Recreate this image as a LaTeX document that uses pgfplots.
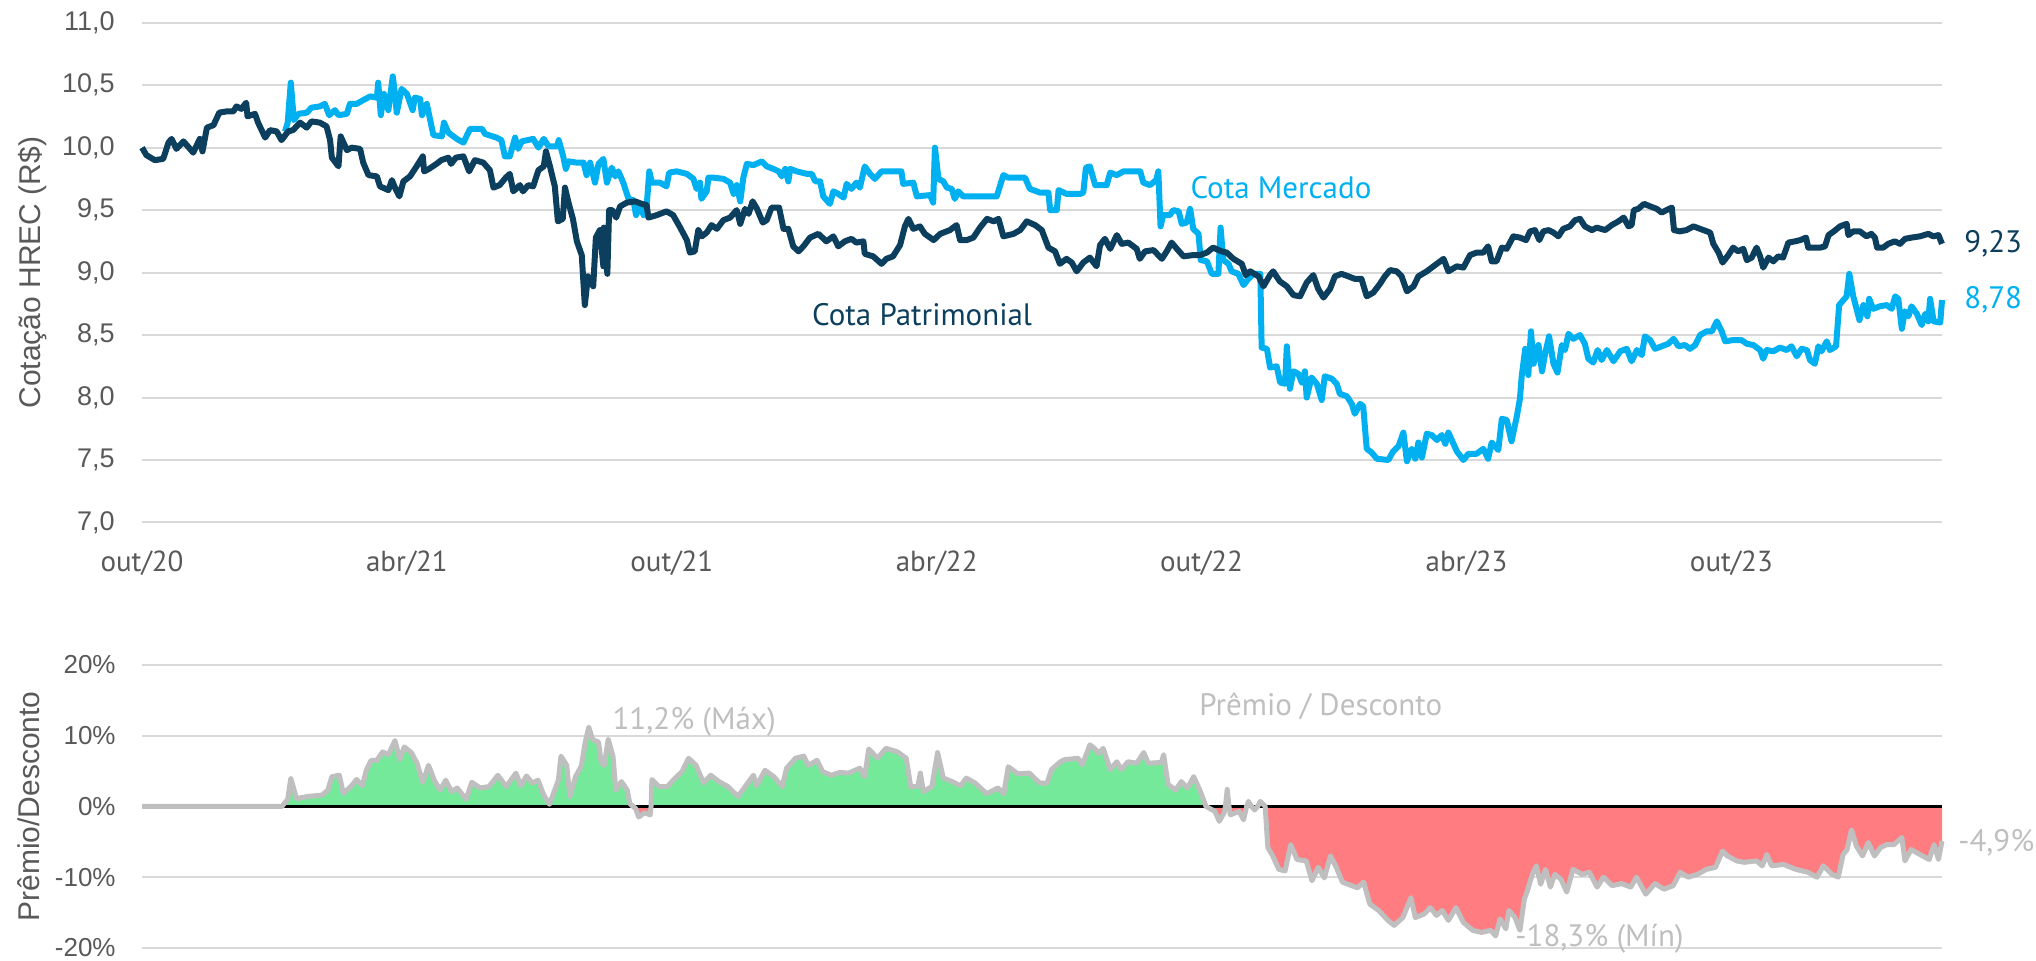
\documentclass[border=0pt]{standalone}
\usepackage{fontspec}
\setmainfont{Liberation Sans}
\newfontfamily\din{PT Sans}
\usepackage{pgfplots}
\usepackage{pgfplotstable}
\pgfplotsset{compat=1.18}

\definecolor{mercado}{RGB}{0,176,240}
\definecolor{patrim}{RGB}{12,62,94}
\definecolor{premio}{RGB}{191,191,191}
\definecolor{gridc}{RGB}{217,217,217}
\definecolor{tickc}{RGB}{89,89,89}
\definecolor{verde}{RGB}{115,233,153}
\definecolor{vermelho}{RGB}{255,124,128}

% x = meses desde out/20
\pgfplotstableread{
m v
0.00 10.00
0.10 9.94
0.29 9.90
0.48 9.91
0.60 10.04
0.67 10.07
0.78 9.99
0.94 10.05
1.16 9.96
1.31 10.07
1.37 9.97
1.47 10.16
1.62 10.18
1.75 10.28
1.92 10.29
2.07 10.29
2.14 10.33
2.25 10.31
2.36 10.36
2.39 10.25
2.56 10.27
2.63 10.20
2.79 10.08
2.90 10.14
3.05 10.13
3.16 10.06
3.31 10.13
3.42 10.14
3.58 10.20
3.73 10.16
3.84 10.21
4.03 10.20
4.18 10.17
4.26 10.06
4.30 9.92
4.45 9.85
4.50 10.09
4.64 9.98
4.75 10.00
4.94 9.99
5.01 9.88
5.13 9.78
5.32 9.77
5.39 9.69
5.58 9.66
5.66 9.74
5.73 9.68
5.83 9.61
5.92 9.73
6.07 9.77
6.22 9.85
6.36 9.93
6.39 9.81
6.50 9.83
6.67 9.87
6.78 9.90
6.94 9.92
7.00 9.87
7.11 9.92
7.28 9.93
7.41 9.81
7.54 9.90
7.73 9.88
7.88 9.82
7.96 9.68
8.10 9.70
8.24 9.76
8.33 9.79
8.41 9.65
8.56 9.70
8.63 9.65
8.75 9.70
8.86 9.69
8.98 9.82
9.10 9.85
9.15 9.97
9.24 9.85
9.35 9.69
9.42 9.41
9.53 9.43
9.58 9.68
9.66 9.56
9.76 9.43
9.85 9.25
9.96 9.14
10.03 8.74
10.10 8.97
10.22 8.89
10.28 9.28
10.37 9.34
10.45 9.05
10.46 9.36
10.54 8.99
10.58 9.50
10.65 9.50
10.74 9.44
10.83 9.53
10.98 9.56
11.17 9.57
11.32 9.55
11.43 9.54
11.47 9.44
11.66 9.46
11.88 9.49
12.03 9.46
12.19 9.36
12.34 9.26
12.41 9.16
12.52 9.17
12.60 9.34
12.68 9.29
12.79 9.32
12.90 9.38
13.02 9.35
13.17 9.42
13.32 9.44
13.47 9.50
13.55 9.39
13.66 9.51
13.74 9.47
13.83 9.57
13.93 9.51
14.06 9.40
14.15 9.42
14.26 9.52
14.43 9.52
14.53 9.35
14.64 9.35
14.75 9.21
14.87 9.17
14.98 9.21
15.13 9.28
15.32 9.31
15.50 9.25
15.66 9.29
15.77 9.21
15.92 9.25
16.07 9.27
16.18 9.24
16.34 9.25
16.37 9.15
16.56 9.13
16.75 9.07
16.86 9.11
17.01 9.13
17.17 9.22
17.28 9.37
17.36 9.43
17.47 9.35
17.62 9.37
17.73 9.31
17.93 9.26
18.08 9.31
18.30 9.34
18.45 9.38
18.53 9.26
18.68 9.26
18.83 9.28
18.98 9.36
19.14 9.43
19.29 9.41
19.40 9.43
19.51 9.29
19.74 9.31
19.89 9.34
20.04 9.41
20.23 9.38
20.38 9.34
20.53 9.20
20.68 9.17
20.79 9.07
20.94 9.11
21.06 9.08
21.17 9.01
21.32 9.08
21.47 9.12
21.62 9.05
21.70 9.22
21.81 9.27
21.93 9.19
22.08 9.30
22.19 9.23
22.34 9.24
22.53 9.19
22.60 9.11
22.72 9.17
22.91 9.18
23.10 9.11
23.21 9.17
23.32 9.24
23.44 9.19
23.59 9.13
23.81 9.14
23.96 9.14
24.12 9.16
24.26 9.20
24.45 9.17
24.57 9.16
24.72 9.11
24.91 9.07
25.00 8.98
25.10 9.01
25.29 8.97
25.40 8.89
25.55 8.98
25.62 9.01
25.77 8.93
25.93 8.89
26.08 8.82
26.23 8.81
26.38 8.92
26.53 8.98
26.64 8.87
26.76 8.80
26.91 8.87
27.02 8.97
27.17 8.99
27.32 8.97
27.47 8.95
27.62 8.95
27.74 8.81
27.89 8.84
28.04 8.91
28.15 8.97
28.27 9.02
28.42 9.01
28.53 8.97
28.65 8.85
28.80 8.89
28.91 8.97
29.10 9.01
29.25 9.05
29.48 9.11
29.59 9.01
29.78 9.05
29.93 9.04
30.08 9.14
30.23 9.16
30.38 9.16
30.49 9.21
30.57 9.09
30.68 9.09
30.80 9.20
30.91 9.19
31.06 9.29
31.21 9.28
31.35 9.26
31.44 9.33
31.55 9.34
31.65 9.26
31.74 9.33
31.86 9.34
31.97 9.32
32.08 9.29
32.19 9.35
32.34 9.37
32.46 9.42
32.57 9.43
32.68 9.37
32.84 9.34
32.95 9.36
33.14 9.34
33.29 9.38
33.44 9.41
33.56 9.44
33.67 9.37
33.74 9.38
33.79 9.50
33.89 9.51
34.02 9.55
34.16 9.53
34.31 9.51
34.42 9.48
34.53 9.50
34.65 9.52
34.70 9.34
34.83 9.33
34.98 9.34
35.14 9.37
35.29 9.35
35.52 9.32
35.59 9.23
35.71 9.16
35.80 9.08
35.93 9.14
36.04 9.20
36.15 9.17
36.27 9.19
36.35 9.10
36.46 9.12
36.57 9.20
36.65 9.13
36.72 9.04
36.84 9.12
36.95 9.09
37.06 9.13
37.17 9.12
37.29 9.24
37.44 9.25
37.56 9.26
37.69 9.28
37.74 9.20
37.86 9.20
38.01 9.20
38.12 9.21
38.20 9.30
38.32 9.33
38.46 9.37
38.61 9.39
38.65 9.30
38.76 9.33
38.91 9.33
39.06 9.29
39.17 9.31
39.25 9.28
39.30 9.20
39.44 9.20
39.55 9.23
39.70 9.25
39.82 9.23
39.93 9.27
40.08 9.28
40.27 9.29
40.46 9.31
40.57 9.29
40.69 9.30
40.77 9.23
}\patrimonial

\pgfplotstableread{
m v
3.24 10.13
3.30 10.20
3.37 10.52
3.44 10.22
3.54 10.27
3.73 10.28
3.84 10.32
4.03 10.33
4.14 10.35
4.24 10.26
4.37 10.30
4.45 10.26
4.64 10.27
4.71 10.35
4.86 10.35
5.01 10.38
5.17 10.41
5.32 10.40
5.35 10.52
5.41 10.26
5.48 10.43
5.58 10.30
5.68 10.57
5.73 10.43
5.77 10.28
5.88 10.47
6.00 10.43
6.13 10.30
6.18 10.40
6.30 10.39
6.34 10.26
6.45 10.35
6.60 10.10
6.79 10.09
6.84 10.20
6.94 10.12
7.13 10.07
7.28 10.04
7.43 10.15
7.70 10.15
7.77 10.11
8.03 10.08
8.14 10.06
8.22 9.93
8.33 9.93
8.45 10.08
8.52 9.99
8.60 10.05
8.86 10.07
8.98 10.00
9.10 10.07
9.21 10.01
9.40 10.01
9.44 10.06
9.54 9.93
9.60 9.83
9.66 9.89
9.85 9.88
10.00 9.88
10.07 9.78
10.15 9.88
10.26 9.72
10.34 9.87
10.45 9.91
10.53 9.72
10.64 9.84
10.72 9.77
10.79 9.81
10.90 9.72
11.02 9.59
11.13 9.58
11.19 9.46
11.28 9.54
11.36 9.46
11.43 9.53
11.49 9.81
11.55 9.72
11.73 9.72
11.88 9.69
11.94 9.80
12.11 9.81
12.34 9.79
12.49 9.75
12.56 9.67
12.64 9.72
12.67 9.59
12.79 9.65
12.83 9.76
12.94 9.76
13.17 9.75
13.32 9.72
13.40 9.63
13.47 9.70
13.55 9.57
13.62 9.76
13.70 9.87
13.85 9.86
14.04 9.89
14.15 9.85
14.30 9.83
14.42 9.81
14.49 9.77
14.57 9.83
14.64 9.73
14.68 9.83
14.83 9.81
15.06 9.79
15.17 9.79
15.25 9.73
15.36 9.73
15.43 9.61
15.58 9.55
15.66 9.65
15.77 9.63
15.89 9.60
15.96 9.71
16.07 9.67
16.18 9.72
16.26 9.68
16.37 9.85
16.49 9.79
16.60 9.75
16.75 9.81
17.20 9.81
17.24 9.71
17.47 9.72
17.55 9.61
17.85 9.62
17.92 9.56
17.96 10.00
18.04 9.75
18.15 9.73
18.23 9.68
18.34 9.67
18.41 9.59
18.49 9.65
18.60 9.61
19.36 9.61
19.51 9.78
19.62 9.76
20.00 9.76
20.11 9.67
20.34 9.64
20.53 9.64
20.57 9.50
20.72 9.50
20.76 9.66
20.94 9.63
21.25 9.63
21.32 9.64
21.38 9.84
21.47 9.85
21.59 9.70
21.85 9.70
21.93 9.80
22.08 9.78
22.23 9.81
22.61 9.81
22.68 9.72
22.83 9.70
22.97 9.74
23.02 9.81
23.07 9.37
23.13 9.46
23.28 9.46
23.36 9.50
23.48 9.49
23.55 9.39
23.66 9.40
23.74 9.51
23.81 9.35
23.93 9.31
23.98 9.10
24.12 9.09
24.23 8.99
24.38 8.99
24.43 9.36
24.49 9.10
24.61 9.07
24.68 9.01
24.83 8.99
24.95 8.90
25.06 8.95
25.18 8.99
25.33 8.99
25.36 8.40
25.48 8.39
25.55 8.24
25.70 8.25
25.78 8.12
25.89 8.11
25.93 8.41
26.00 8.07
26.08 8.21
26.19 8.19
26.27 8.12
26.34 8.21
26.38 8.00
26.49 8.16
26.61 8.11
26.72 7.98
26.79 8.17
26.95 8.15
27.06 8.11
27.13 8.03
27.29 8.01
27.40 7.95
27.47 7.87
27.59 7.95
27.66 7.93
27.74 7.59
27.85 7.56
27.97 7.51
28.23 7.50
28.34 7.57
28.46 7.61
28.57 7.72
28.65 7.49
28.76 7.59
28.84 7.51
28.91 7.64
28.99 7.52
29.10 7.71
29.21 7.70
29.33 7.66
29.44 7.70
29.52 7.63
29.59 7.72
29.78 7.57
29.93 7.50
30.04 7.55
30.23 7.55
30.38 7.59
30.49 7.51
30.57 7.64
30.72 7.58
30.80 7.83
30.91 7.82
31.02 7.65
31.14 7.85
31.21 7.99
31.25 8.17
31.33 8.39
31.40 8.18
31.46 8.53
31.52 8.27
31.63 8.42
31.71 8.21
31.78 8.35
31.87 8.49
31.97 8.27
32.06 8.20
32.16 8.42
32.23 8.38
32.31 8.51
32.42 8.47
32.57 8.50
32.68 8.43
32.76 8.31
32.87 8.28
32.97 8.38
33.06 8.30
33.18 8.38
33.33 8.29
33.48 8.37
33.63 8.39
33.74 8.29
33.86 8.38
33.97 8.34
34.04 8.49
34.16 8.46
34.27 8.39
34.42 8.41
34.57 8.43
34.69 8.47
34.80 8.41
34.95 8.42
35.06 8.39
35.18 8.42
35.29 8.50
35.44 8.53
35.56 8.53
35.67 8.61
35.78 8.53
35.86 8.45
36.04 8.46
36.23 8.46
36.35 8.43
36.50 8.42
36.65 8.38
36.72 8.31
36.80 8.38
36.95 8.37
37.10 8.40
37.25 8.38
37.36 8.41
37.48 8.33
37.59 8.39
37.71 8.38
37.78 8.30
37.89 8.27
37.97 8.41
38.04 8.37
38.16 8.45
38.23 8.38
38.37 8.41
38.44 8.74
38.61 8.81
38.67 8.99
38.76 8.81
38.90 8.62
38.99 8.74
39.08 8.65
39.12 8.79
39.21 8.71
39.36 8.73
39.52 8.74
39.63 8.71
39.71 8.81
39.78 8.79
39.86 8.55
39.93 8.69
40.01 8.65
40.08 8.73
40.20 8.67
40.31 8.58
40.39 8.67
40.46 8.61
40.50 8.79
40.58 8.61
40.73 8.60
40.77 8.78
}\mercadotab

\pgfplotstableread{
m p
0 0
3.17 0
3.30 1.0
3.37 3.96
3.50 1.1
3.76 1.4
4.08 1.6
4.21 2.3
4.30 4.2
4.47 4.4
4.56 1.85
4.73 2.8
4.86 3.8
4.99 2.9
5.08 5.1
5.19 6.5
5.32 6.5
5.45 7.7
5.58 7.3
5.73 9.3
5.84 6.6
5.94 8.4
6.10 7.6
6.23 6.1
6.36 3.4
6.49 5.8
6.62 3.7
6.75 2.3
6.88 3.7
7.01 2.1
7.14 2.6
7.34 1.0
7.47 3.4
7.66 2.6
7.86 2.8
8.06 4.4
8.25 2.8
8.47 4.7
8.58 2.9
8.71 4.3
8.84 3.3
8.97 3.7
9.10 1.6
9.23 0.3
9.43 3.7
9.49 7.1
9.62 5.8
9.69 1.4
9.82 4.2
9.95 5.7
10.04 9.1
10.12 11.2
10.21 9.4
10.34 9.1
10.40 6.3
10.47 5.8
10.56 9.5
10.67 7.0
10.73 2.3
10.86 3.5
10.99 2.3
11.05 0.4
11.12 0
11.18 -0.3
11.25 -1.5
11.38 -0.9
11.51 -1.2
11.53 0
11.55 3.8
11.71 2.8
11.90 2.8
12.03 3.7
12.23 4.9
12.38 6.8
12.55 5.8
12.72 3.3
12.88 4.4
13.07 3.5
13.27 2.8
13.50 1.4
13.72 3.3
13.85 4.4
13.92 2.9
14.11 5.1
14.31 4.2
14.50 2.8
14.60 5.4
14.80 6.8
14.99 7.1
15.09 5.8
15.29 6.5
15.42 4.9
15.61 4.4
15.81 4.8
16.00 4.7
16.26 5.4
16.37 4.2
16.46 8.1
16.66 6.8
16.85 8.2
17.11 7.7
17.31 6.8
17.41 2.8
17.57 2.8
17.63 4.7
17.70 2.1
17.89 2.8
18.02 7.6
18.15 4.0
18.35 3.5
18.54 2.9
18.67 4.0
18.87 3.3
19.13 1.8
19.39 2.6
19.52 1.8
19.62 5.6
19.84 4.6
20.10 4.7
20.33 3.3
20.50 3.3
20.60 5.2
20.80 6.3
20.90 6.6
21.20 6.8
21.30 5.9
21.47 8.7
21.57 8.2
21.67 7.5
21.77 8.2
21.93 5.2
22.08 6.3
22.18 5.2
22.33 6.3
22.53 6.1
22.69 7.6
22.79 6.1
23.09 6.2
23.14 7.3
23.24 3.1
23.41 2.3
23.54 3.5
23.68 2.6
23.82 4.2
23.96 2.3
24.10 0
24.30 -0.7
24.40 -2.1
24.51 -0.9
24.54 0
24.58 2.4
24.62 0
24.65 -1.2
24.85 -0.7
24.95 -1.9
25.02 0
25.06 0.7
25.13 0
25.20 -0.5
25.27 0
25.33 0.7
25.44 0
25.50 -5.8
25.61 -7.0
25.75 -8.9
25.89 -9.1
26.02 -5.4
26.16 -7.5
26.37 -7.7
26.50 -10.5
26.64 -8.6
26.78 -10.1
26.92 -7.0
27.05 -8.6
27.19 -10.7
27.40 -11.2
27.53 -11.5
27.67 -10.7
27.81 -13.8
28.01 -14.7
28.22 -16.1
28.36 -16.8
28.56 -15.7
28.74 -12.9
28.84 -15.7
29.04 -15.2
29.18 -14.3
29.32 -15.4
29.45 -14.7
29.59 -16.1
29.76 -14.3
29.93 -16.4
30.14 -17.5
30.34 -17.8
30.55 -17.5
30.66 -18.3
30.76 -15.9
30.89 -17.3
30.96 -14.7
31.10 -15.7
31.21 -17.5
31.31 -13.1
31.38 -11.9
31.49 -9.6
31.58 -8.4
31.68 -11.0
31.79 -8.9
31.90 -11.4
32.00 -9.6
32.14 -10.3
32.27 -12.1
32.41 -8.9
32.62 -9.6
32.78 -9.3
32.96 -11.4
33.10 -10.0
33.30 -11.2
33.51 -10.9
33.72 -11.4
33.85 -10.0
34.06 -12.4
34.27 -10.9
34.47 -11.7
34.68 -11.2
34.84 -9.3
35.02 -10.0
35.23 -9.6
35.43 -8.9
35.64 -8.6
35.80 -6.3
35.91 -7.0
36.12 -7.7
36.29 -7.9
36.57 -7.7
36.70 -8.4
36.80 -6.8
36.91 -8.4
37.18 -8.2
37.46 -8.9
37.73 -9.3
37.94 -10.0
38.08 -8.4
38.28 -9.6
38.42 -10.0
38.53 -6.8
38.62 -6.1
38.72 -3.3
38.83 -5.6
38.97 -7.0
39.10 -5.1
39.24 -7.0
39.38 -5.8
39.52 -5.4
39.68 -5.4
39.86 -4.4
39.93 -7.7
40.07 -6.1
40.27 -6.8
40.48 -7.5
40.59 -5.4
40.69 -7.5
40.77 -4.9
}\premiotab

\begin{document}
\begin{tikzpicture}
\useasboundingbox (0,0) rectangle (1018pt,480.5pt);

% --- cotacoes
\begin{axis}[
  at={(71pt,219.25pt)}, anchor=south west,
  scale only axis, width=900pt, height=249.9pt,
  xmin=0, xmax=40.77, ymin=7, ymax=11,
  axis line style={draw=none}, tick style={draw=none},
  ymajorgrids, grid style={gridc, line width=1pt},
  xtick={0,6,12,18,24,30,36},
  xticklabels={out/20,abr/21,out/21,abr/22,out/22,abr/23,out/23},
  ytick={7,7.5,8,8.5,9,9.5,10,10.5,11},
  yticklabels={{7,0},{7,5},{8,0},{8,5},{9,0},{9,5},{10,0},{10,5},{11,0}},
  yticklabel style={font=\fontsize{13.5}{16}\selectfont, text=tickc, anchor=east, inner sep=0pt, xshift=-13.5pt},
  xticklabel style={font=\din\fontsize{14.5}{17}\selectfont, text=tickc, anchor=north, inner sep=0pt, yshift=-14pt},
  ylabel={Cotação HREC (R\$)},
  ylabel style={font=\fontsize{15}{18}\selectfont, text=tickc, at={(axis description cs:-0.061,0.5)}, anchor=center},
  clip=false,
]
\addplot[mercado, line width=3pt, line join=round] table[x=m,y=v] {\mercadotab};
\addplot[patrim, line width=3pt, line join=round] table[x=m,y=v] {\patrimonial};
\node[anchor=west, inner sep=0pt, text=mercado, font=\din\fontsize{15.5}{18}\selectfont] at (axis cs:23.74,9.68) {Cota Mercado};
\node[anchor=west, inner sep=0pt, text=patrim, font=\din\fontsize{15.5}{18}\selectfont] at (axis cs:15.17,8.667) {Cota Patrimonial};
\node[anchor=west, inner sep=0pt, xshift=11pt, text=patrim, font=\din\fontsize{15.5}{18}\selectfont] at (axis cs:40.77,9.23) {9,23};
\node[anchor=west, inner sep=0pt, xshift=11pt, text=mercado, font=\din\fontsize{15.5}{18}\selectfont] at (axis cs:40.77,8.78) {8,78};
\end{axis}

% --- premio / desconto
\begin{axis}[
  at={(71pt,6.5pt)}, anchor=south west,
  scale only axis, width=900pt, height=141.6pt,
  xmin=0, xmax=40.77, ymin=-20, ymax=20,
  axis line style={draw=none}, tick style={draw=none},
  ymajorgrids, grid style={gridc, line width=1pt},
  xtick=\empty,
  ytick={-20,-10,0,10,20},
  yticklabels={-20\%,-10\%,0\%,10\%,20\%},
  yticklabel style={font=\fontsize{13}{16}\selectfont, text=tickc, anchor=east, inner sep=0pt, xshift=-13pt},
  ylabel={Prêmio/Desconto},
  ylabel style={font=\fontsize{15}{18}\selectfont, text=tickc, at={(axis description cs:-0.063,0.5)}, anchor=center},
  clip=false,
]
\addplot[fill=verde, draw=none] table[x=m, y expr={max(\thisrow{p},0)}] {\premiotab} \closedcycle;
\addplot[fill=vermelho, draw=none] table[x=m, y expr={min(\thisrow{p},0)}] {\premiotab} \closedcycle;
\addplot[black, line width=1.2pt] coordinates {(0,0) (40.77,0)};
\addplot[premio, line width=2.5pt, line join=round] table[x=m,y=p] {\premiotab};
\node[anchor=west, inner sep=0pt, text=premio, font=\din\fontsize{15.5}{18}\selectfont] at (axis cs:10.65,11.96) {11,2\% (Máx)};
\node[anchor=west, inner sep=0pt, text=premio, font=\din\fontsize{15.5}{18}\selectfont] at (axis cs:23.94,14.2) {Prêmio / Desconto};
\node[anchor=west, inner sep=0pt, text=premio, font=\din\fontsize{15.5}{18}\selectfont] at (axis cs:31.1,-18.7) {-18,3\% (Mín)};
\node[anchor=west, inner sep=0pt, xshift=8pt, text=premio, font=\din\fontsize{15.5}{18}\selectfont] at (axis cs:40.77,-5.1) {-4,9\%};
\end{axis}
\end{tikzpicture}
\end{document}
